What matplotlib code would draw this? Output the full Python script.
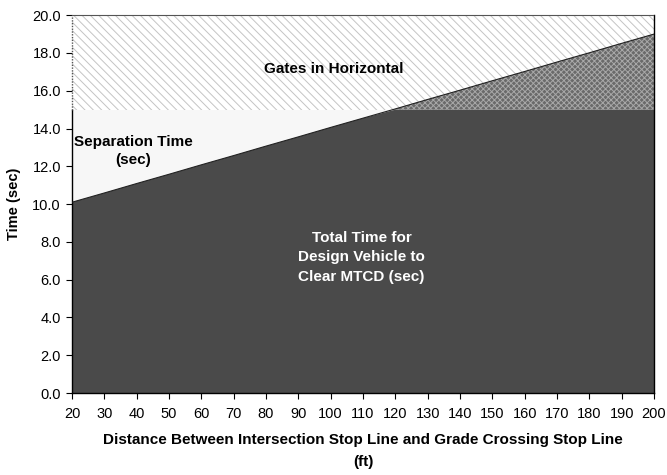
import matplotlib
matplotlib.use("Agg")
import matplotlib.pyplot as plt
import numpy as np

plt.rcParams['font.family'] = ['Liberation Sans', 'DejaVu Sans']
plt.rcParams['hatch.linewidth'] = 0.7

distance = [20, 30, 40, 50, 60, 70, 80, 90, 100, 110, 120, 130, 140, 150, 160, 170, 180, 190, 200]
total_time = [10.10, 10.59, 11.09, 11.58, 12.08, 12.57, 13.07, 13.56, 14.06, 14.55, 15.04,
              15.54, 16.03, 16.53, 17.02, 17.52, 18.01, 18.51, 19.00]
gates_start = 15.0
gates_end = 20.0
x_ticks = list(range(20, 201, 10))
y_ticks = [0, 2, 4, 6, 8, 10, 12, 14, 16, 18, 20]

x = np.array(distance, dtype=float)
t = np.array(total_time)

fig = plt.figure(figsize=(6.67, 4.75), dpi=100)
ax = fig.add_axes([0.108, 0.1726, 0.8725, 0.7954])

# separation time region (light)
ax.fill_between(x, t, gates_start, where=t <= gates_start + 1e-9, facecolor='#f7f7f7', edgecolor='none', interpolate=True, zorder=1)
# gates horizontal region (hatched)
ax.fill_between(x, gates_start, gates_end, facecolor='white', edgecolor='#c4c4c4', hatch='\\\\\\\\', linewidth=0, zorder=1)
# total time region (dark)
ax.fill_between(x, 0, np.minimum(t, gates_start), facecolor='#4a4a4a', edgecolor='none', zorder=2)
# overlap region
ax.fill_between(x, gates_start, t, where=t >= gates_start - 1e-9, facecolor='#6a6a6a', edgecolor='#a8a8a8', hatch='xxxxxx', linewidth=0, interpolate=True, zorder=2)
ax.plot(x, t, color='#222222', lw=0.8, zorder=3)

ax.set_xlim(20, 200)
ax.set_ylim(0, 20)
ax.set_xticks(x_ticks)
ax.set_yticks(y_ticks)
ax.set_yticklabels([f"{v:.1f}" for v in y_ticks])
ax.tick_params(direction='out', length=4, width=0.8, labelsize=10.5, colors='black', pad=4)
ax.tick_params(axis='x', pad=6)

ax.spines['top'].set_linestyle((0, (1, 1)))
ax.spines['top'].set_color('#555555')
ax.spines['left'].set_bounds(0, gates_start)
ax.spines['left'].set_linewidth(1.0)
ax.spines['bottom'].set_linewidth(1.0)
ax.spines['right'].set_linewidth(1.0)
ax.axvline(20, ymin=gates_start / 20, ymax=1, color='#555555', lw=1, linestyle=(0, (1, 1)), zorder=4, clip_on=False)

ax.set_ylabel('Time (sec)', fontsize=10.5, fontweight='bold', labelpad=8)
ax.set_xlabel('Distance Between Intersection Stop Line and Grade Crossing Stop Line\n(ft)',
              fontsize=11, fontweight='bold', labelpad=9, linespacing=1.7)

ax.text(101, 17.15, 'Gates in Horizontal', ha='center', va='center', fontsize=11, fontweight='bold', zorder=5)
ax.text(39, 12.8, 'Separation Time\n(sec)', ha='center', va='center', fontsize=11, fontweight='bold', zorder=5, linespacing=1.4)
ax.text(109.5, 7.2, 'Total Time for\nDesign Vehicle to\nClear MTCD (sec)', ha='center', va='center', fontsize=11,
        fontweight='bold', color='white', zorder=5, linespacing=1.5)

fig.savefig('out.png', dpi=100)
